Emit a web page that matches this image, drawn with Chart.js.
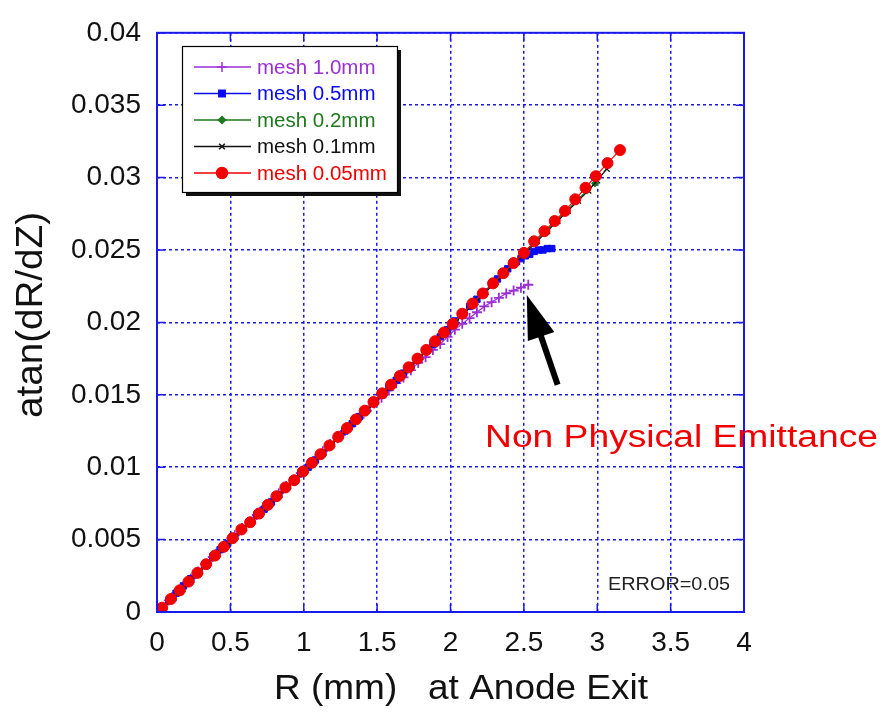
<!DOCTYPE html>
<html>
<head>
<meta charset="utf-8">
<script src="https://cdn.jsdelivr.net/npm/chart.js@4/dist/chart.umd.min.js"></script>
<style>
html,body{margin:0;padding:0;background:#ffffff;}
canvas{display:block;}
</style>
</head>
<body>
<canvas id="c" width="881" height="717"></canvas>
<script>
// ---- data ----
const seriesLabels = ["mesh 1.0mm", "mesh 0.5mm", "mesh 0.2mm", "mesh 0.1mm", "mesh 0.05mm"];

const mesh005X = [0.035,0.095,0.155,0.215,0.275,0.335,0.395,0.455,0.515,0.575,0.635,0.695,0.755,0.815,0.875,0.935,0.995,1.055,1.115,1.175,1.235,1.295,1.355,1.415,1.475,1.535,1.595,1.655,1.715,1.775,1.835,1.895,1.955,2.015,2.08,2.15,2.22,2.29,2.36,2.43,2.50,2.57,2.64,2.71,2.78,2.85,2.92,2.99,3.07,3.155];
const mesh005Y = [0.0003,0.0009,0.0015,0.0021,0.0027,0.0033,0.0039,0.0045,0.0051,0.0057,0.0062,0.0068,0.0074,0.0080,0.0086,0.0091,0.0097,0.0103,0.0109,0.0115,0.0121,0.0127,0.0133,0.0139,0.0145,0.0151,0.0157,0.0163,0.0169,0.0175,0.0181,0.0187,0.0193,0.0199,0.0206,0.0213,0.0220,0.0227,0.0234,0.0241,0.0248,0.0256,0.0263,0.0270,0.0277,0.0285,0.0293,0.0301,0.0310,0.0319];

const mesh01X = [0.055,0.115,0.175,0.235,0.295,0.355,0.415,0.475,0.535,0.595,0.655,0.715,0.775,0.835,0.895,0.955,1.015,1.075,1.135,1.195,1.255,1.315,1.375,1.435,1.495,1.555,1.615,1.675,1.735,1.795,1.855,1.915,1.975,2.035,2.10,2.17,2.24,2.31,2.38,2.45,2.52,2.59,2.66,2.73,2.80,2.87,2.94,3.00,3.065];
const mesh01Y = [0.0004,0.0010,0.0016,0.0022,0.0028,0.0034,0.0040,0.0046,0.0052,0.0058,0.0063,0.0069,0.0075,0.0081,0.0087,0.0092,0.0098,0.0104,0.0110,0.0116,0.0122,0.0128,0.0134,0.0140,0.0146,0.0152,0.0158,0.0164,0.0170,0.0176,0.0182,0.0188,0.0194,0.0200,0.0207,0.0214,0.0221,0.0228,0.0235,0.0242,0.0249,0.0256,0.0263,0.0270,0.0277,0.0284,0.0291,0.0298,0.0306];

const mesh02X = [0.045,0.105,0.165,0.225,0.285,0.345,0.405,0.465,0.525,0.585,0.645,0.705,0.765,0.825,0.885,0.945,1.005,1.065,1.125,1.185,1.245,1.305,1.365,1.425,1.485,1.545,1.605,1.665,1.725,1.785,1.845,1.905,1.965,2.025,2.09,2.16,2.23,2.30,2.37,2.44,2.51,2.58,2.65,2.72,2.79,2.86,2.93,2.985];
const mesh02Y = [0.0004,0.0010,0.0016,0.0022,0.0028,0.0034,0.0040,0.0046,0.0052,0.0058,0.0063,0.0069,0.0075,0.0081,0.0087,0.0092,0.0098,0.0104,0.0110,0.0116,0.0122,0.0128,0.0134,0.0140,0.0146,0.0152,0.0158,0.0164,0.0170,0.0176,0.0182,0.0188,0.0194,0.0200,0.0207,0.0214,0.0221,0.0228,0.0235,0.0242,0.0249,0.0256,0.0263,0.0270,0.0277,0.0284,0.0291,0.0296];

const mesh05X = [0.03,0.08,0.13,0.18,0.23,0.28,0.33,0.38,0.43,0.48,0.53,0.58,0.63,0.68,0.73,0.78,0.83,0.88,0.93,0.98,1.03,1.08,1.13,1.18,1.23,1.28,1.33,1.38,1.43,1.48,1.53,1.58,1.63,1.68,1.73,1.78,1.83,1.88,1.93,1.98,2.03,2.08,2.13,2.18,2.23,2.28,2.32,2.36,2.39,2.42,2.45,2.48,2.51,2.54,2.57,2.60,2.63,2.66,2.69];
const mesh05Y = [0.0003,0.0008,0.0013,0.0018,0.0023,0.0028,0.0033,0.0038,0.0043,0.0047,0.0052,0.0057,0.0062,0.0067,0.0071,0.0076,0.0081,0.0086,0.0091,0.0096,0.0100,0.0105,0.0110,0.0115,0.0120,0.0125,0.0130,0.0135,0.0140,0.0145,0.0150,0.0155,0.0160,0.0165,0.0170,0.0175,0.0180,0.0185,0.0190,0.0195,0.0201,0.0206,0.0211,0.0216,0.0221,0.0226,0.0230,0.0234,0.0237,0.0240,0.0242,0.0244,0.0246,0.0247,0.0249,0.0250,0.0250,0.0251,0.0251];

const mesh10X = [0.03,0.08,0.13,0.18,0.23,0.28,0.33,0.38,0.43,0.48,0.53,0.58,0.63,0.68,0.73,0.78,0.83,0.88,0.93,0.98,1.03,1.08,1.13,1.18,1.23,1.28,1.33,1.38,1.43,1.48,1.53,1.58,1.63,1.68,1.73,1.78,1.83,1.88,1.93,1.98,2.03,2.08,2.13,2.18,2.23,2.28,2.33,2.38,2.43,2.48,2.53];
const mesh10Y = [0.0003,0.0008,0.0013,0.0018,0.0023,0.0028,0.0033,0.0038,0.0043,0.0048,0.0053,0.0058,0.0062,0.0067,0.0072,0.0077,0.0082,0.0087,0.0091,0.0096,0.0101,0.0106,0.0111,0.0116,0.0120,0.0125,0.0130,0.0134,0.0139,0.0144,0.0148,0.0153,0.0158,0.0162,0.0167,0.0172,0.0176,0.0181,0.0185,0.0190,0.0195,0.0199,0.0203,0.0207,0.0211,0.0214,0.0217,0.0220,0.0222,0.0224,0.0226];

const xTickLabels = ["0","0.5","1","1.5","2","2.5","3","3.5","4"];
const yTickLabels = ["0","0.005","0.01","0.015","0.02","0.025","0.03","0.035","0.04"];

const xTitle = "R (mm)   at Anode Exit";
const yTitle = "atan(dR/dZ)";
const noteText = "Non Physical Emittance";
const errorText = "ERROR=0.05";
const arrowTail = [2.73, 0.0157];
const arrowTip = [2.52, 0.0219];

// ---- build ----
function pts(xs, ys){ return xs.map((x,i)=>({x:x, y:ys[i]})); }

const colors = ["#9b2fd6", "#0a0af0", "#1d7a1d", "#111111", "#f00000"];
const styles = [
  {pointStyle:"cross", pointRadius:5, pointBorderWidth:1.8},
  {pointStyle:"rect", pointRadius:4.5, pointBorderWidth:1},
  {pointStyle:"rectRot", pointRadius:3.5, pointBorderWidth:1},
  {pointStyle:"crossRot", pointRadius:4, pointBorderWidth:1.2},
  {pointStyle:"circle", pointRadius:5.5, pointBorderWidth:1}
];
const allData = [pts(mesh10X,mesh10Y), pts(mesh05X,mesh05Y), pts(mesh02X,mesh02Y), pts(mesh01X,mesh01Y), pts(mesh005X,mesh005Y)];
const orders = [4,3,2,1,0];

const datasets = allData.map((d,i)=>Object.assign({
  label: seriesLabels[i],
  data: d,
  showLine: true,
  borderColor: colors[i],
  backgroundColor: colors[i],
  pointBackgroundColor: colors[i],
  pointBorderColor: colors[i],
  borderWidth: 1.2,
  order: orders[i]
}, styles[i]));

const BLUE = "#1a1aee";
const FONT = "'Liberation Sans', Arial, sans-serif";

function fitText(ctx, text, x, y, size, width, align){
  ctx.save();
  ctx.font = size + "px " + FONT;
  const w = ctx.measureText(text).width;
  const sx = width / w;
  ctx.translate(x, y);
  ctx.scale(sx, 1);
  ctx.textAlign = align || "left";
  ctx.fillText(text, 0, 0);
  ctx.restore();
}

const decor = {
  id: "decor",
  beforeDraw(chart){
    const ctx = chart.ctx;
    ctx.save();
    ctx.fillStyle = "#ffffff";
    ctx.fillRect(0,0,chart.width,chart.height);
    ctx.restore();
  },
  afterDatasetsDraw(chart){
    const ctx = chart.ctx, a = chart.chartArea;
    const xs = chart.scales.x, ys = chart.scales.y;
    ctx.save();
    // frame
    ctx.strokeStyle = BLUE; ctx.lineWidth = 2;
    ctx.strokeRect(a.left, a.top, a.right-a.left, a.bottom-a.top);
    // inward ticks
    ctx.lineWidth = 1.5;
    ctx.beginPath();
    xs.ticks.forEach(t=>{ const px = xs.getPixelForValue(t.value);
      ctx.moveTo(px, a.bottom); ctx.lineTo(px, a.bottom-8);
      ctx.moveTo(px, a.top); ctx.lineTo(px, a.top+8); });
    ys.ticks.forEach(t=>{ const py = ys.getPixelForValue(t.value);
      ctx.moveTo(a.left, py); ctx.lineTo(a.left+8, py);
      ctx.moveTo(a.right, py); ctx.lineTo(a.right-8, py); });
    ctx.stroke();

    // arrow
    const tx = xs.getPixelForValue(arrowTail[0]), ty = ys.getPixelForValue(arrowTail[1]);
    const hx = xs.getPixelForValue(arrowTip[0]), hy = ys.getPixelForValue(arrowTip[1]);
    const ang = Math.atan2(hy-ty, hx-tx);
    const headLen = 44, headW = 14;
    const bx = hx - headLen*Math.cos(ang), by = hy - headLen*Math.sin(ang);
    ctx.strokeStyle = "#000"; ctx.fillStyle = "#000"; ctx.lineWidth = 6;
    ctx.beginPath(); ctx.moveTo(tx,ty); ctx.lineTo(bx+4*Math.cos(ang),by+4*Math.sin(ang)); ctx.stroke();
    ctx.beginPath();
    ctx.moveTo(hx,hy);
    ctx.lineTo(bx + headW*Math.sin(ang), by - headW*Math.cos(ang));
    ctx.lineTo(bx - headW*Math.sin(ang), by + headW*Math.cos(ang));
    ctx.closePath(); ctx.fill();

    // note text
    ctx.fillStyle = "#f00000";
    ctx.textBaseline = "middle";
    fitText(ctx, noteText, 485, 438, 31, 393, "left");

    // error text
    ctx.fillStyle = "#222";
    fitText(ctx, errorText, 608, 585, 18, 122, "left");

    // legend
    const L = 182, T = 46, R = 397, B = 192;
    ctx.fillStyle = "#111";
    ctx.fillRect(L+4, B, R-L, 4);
    ctx.fillRect(R, T+4, 4, B-T);
    ctx.fillStyle = "#fff";
    ctx.fillRect(L, T, R-L, B-T);
    ctx.strokeStyle = "#000"; ctx.lineWidth = 1.2;
    ctx.strokeRect(L+0.5, T+0.5, R-L, B-T);
    ctx.font = "20.5px " + FONT;
    ctx.textBaseline = "middle"; ctx.textAlign = "left";
    chart.data.datasets.forEach((ds,i)=>{
      const y = 67 + i*26.5;
      ctx.strokeStyle = ds.borderColor; ctx.lineWidth = 1.5;
      ctx.beginPath(); ctx.moveTo(194,y); ctx.lineTo(251,y); ctx.stroke();
      ctx.fillStyle = ds.borderColor;
      Chart.helpers.drawPoint(ctx, {pointStyle: ds.pointStyle, radius: ds.pointRadius, rotation:0, borderWidth: ds.pointBorderWidth}, 222, y);
      ctx.fillStyle = ds.borderColor;
      ctx.fillText(ds.label, 257, y+1);
    });

    // axis titles
    ctx.fillStyle = "#111";
    ctx.textBaseline = "middle";
    fitText(ctx, xTitle, 461, 689, 35, 374, "center");
    ctx.save();
    ctx.translate(32, 315);
    ctx.rotate(-Math.PI/2);
    fitText(ctx, yTitle, 0, 0, 37, 206, "center");
    ctx.restore();
    ctx.restore();
  }
};

new Chart(document.getElementById("c"), {
  type: "scatter",
  data: { datasets: datasets },
  options: {
    responsive: false,
    animation: false,
    devicePixelRatio: 1,
    layout: { padding: { top: 25, right: 137, left: 0, bottom: 0 } },
    plugins: { legend: { display: false }, tooltip: { enabled: false } },
    scales: {
      x: {
        type: "linear", min: 0, max: 4,
        afterFit(s){ s.height = 105; },
        afterBuildTicks(s){ s.ticks = xTickLabels.map((l,i)=>({value: i*0.5})); },
        ticks: { stepSize: 0.5, padding: 14, color: "#111", font: { family: FONT, size: 28 },
          callback: (v,i)=>xTickLabels[i] },
        grid: { color: BLUE, lineWidth: 1.5, drawTicks: false },
        border: { display: false, dash: [3,3] }
      },
      y: {
        type: "linear", min: 0, max: 0.04,
        afterFit(s){ s.width = 157; },
        afterBuildTicks(s){ s.ticks = yTickLabels.map((l,i)=>({value: i*0.005})); },
        ticks: { stepSize: 0.005, padding: 16, color: "#111", font: { family: FONT, size: 28 },
          callback: (v,i)=>yTickLabels[i] },
        grid: { color: BLUE, lineWidth: 1.5, drawTicks: false },
        border: { display: false, dash: [3,3] }
      }
    }
  },
  plugins: [decor]
});
</script>
</body>
</html>
